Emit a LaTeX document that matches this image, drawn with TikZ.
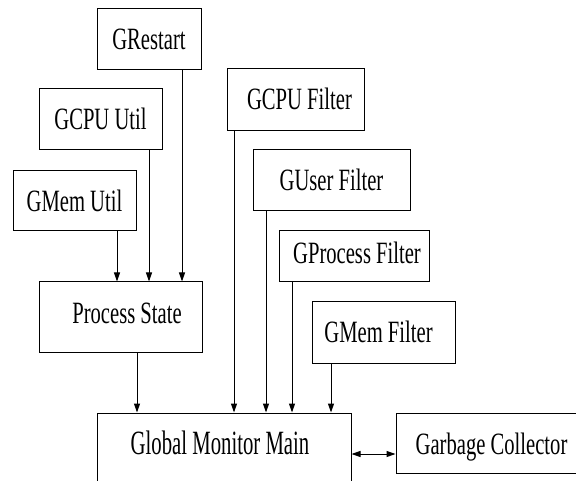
\documentclass[tikz,border=0pt]{standalone}
\usepackage{fontspec}
\setmainfont{Liberation Serif}[FakeStretch=0.665]
\newfontfamily\wideserif{Liberation Serif}[FakeStretch=0.61]
\usetikzlibrary{arrows.meta}
\tikzset{
  blk/.style={draw, line width=1pt, inner sep=0pt, anchor=center,
    font=\fontsize{31}{32}\selectfont, text height=20.5pt, text depth=0pt},
  arr/.style={line width=1pt, -{Triangle[length=9pt,width=6pt]}},
  darr/.style={line width=1pt, {Triangle[length=9pt,width=6pt]}-{Triangle[length=9pt,width=6pt]}}
}
\begin{document}
\begin{tikzpicture}[x=1pt,y=-1pt]
\useasboundingbox (0,0) rectangle (576,481);
\clip (0,0) rectangle (576,481);
\fill[white] (0,0) rectangle (576,481);

% source blocks on the left
\node[blk, minimum width=104pt, minimum height=61pt] (grestart) at (149,39.5) {GRestart};
\node[blk, minimum width=123pt, minimum height=61pt] (gcpuu) at (100.5,119.5) {GCPU Util};
\node[blk, minimum width=123pt, minimum height=60pt] (gmemu) at (74.5,201) {GMem Util};
\node[blk, minimum width=163pt, minimum height=70pt] (ps) at (120.5,317) {\raisebox{4pt}{\hspace*{13pt}Process State}};

% filter blocks on the right
\node[blk, minimum width=137pt, minimum height=62pt] (gcpuf) at (295.5,100) {\raisebox{1pt}{\hspace*{8pt}GCPU Filter}};
\node[blk, minimum width=157pt, minimum height=61pt] (guserf) at (331.5,180.5) {GUser Filter};
\node[blk, minimum width=150pt, minimum height=51pt] (gprocf) at (354,256.5) {\raisebox{3.5pt}{\hspace*{6pt}GProcess Filter}};
\node[blk, minimum width=143pt, minimum height=61pt] (gmemf) at (383.5,332.5) {GMem Filter\hspace*{10pt}};

% main blocks at the bottom
\node[blk, minimum width=254pt, minimum height=82pt, font=\wideserif\fontsize{34}{35}\selectfont, text height=22.5pt] (gmm) at (224,454) {\raisebox{11pt}{Global Monitor Main\hspace*{8pt}}};
\node[blk, minimum width=191pt, minimum height=60pt] (gc) at (491.5,443) {\raisebox{-1pt}{Garbage Collector}};

% inputs of Process State
\coordinate (a1) at ([xshift=42.5pt]gmemu.south);
\coordinate (a2) at ([xshift=48.5pt]gcpuu.south);
\coordinate (a3) at ([xshift=33pt]grestart.south);
\draw[arr] (a1) -- (a1 |- ps.north);
\draw[arr] (a2) -- (a2 |- ps.north);
\draw[arr] (a3) -- (a3 |- ps.north);

% inputs of Global Monitor Main
\coordinate (b1) at ([xshift=16.5pt]ps.south);
\coordinate (b2) at ([xshift=-61.5pt]gcpuf.south);
\coordinate (b3) at ([xshift=-65.5pt]guserf.south);
\coordinate (b4) at ([xshift=-62pt]gprocf.south);
\coordinate (b5) at ([xshift=-52.5pt]gmemf.south);
\draw[arr] (b1) -- (b1 |- gmm.north);
\draw[arr] (b2) -- (b2 |- gmm.north);
\draw[arr] (b3) -- (b3 |- gmm.north);
\draw[arr] (b4) -- (b4 |- gmm.north);
\draw[arr] (b5) -- (b5 |- gmm.north);

% link to the garbage collector
\draw[darr] (gmm.east) -- (gmm.east -| gc.west);
\end{tikzpicture}
\end{document}
